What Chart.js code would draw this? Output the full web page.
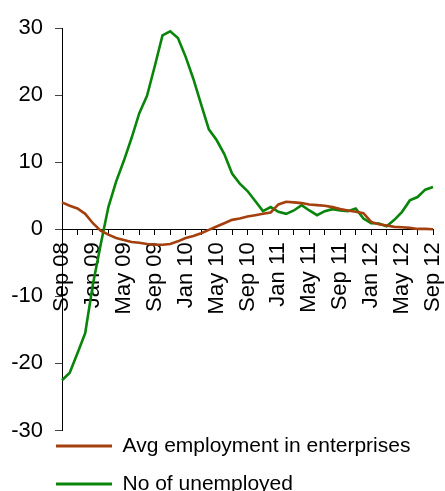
<!DOCTYPE html>
<html>
<head>
<meta charset="utf-8">
<script src="https://cdn.jsdelivr.net/npm/chart.js@4"></script>
<style>
  html, body { margin: 0; padding: 0; background: #fff; }
  #wrap { width: 445px; height: 491px; position: relative; }
</style>
</head>
<body>
<div id="wrap"><canvas id="c" width="445" height="491"></canvas></div>
<script>
const categories = [
  'Sep 08','Oct 08','Nov 08','Dec 08',
  'Jan 09','Feb 09','Mar 09','Apr 09','May 09','Jun 09','Jul 09','Aug 09','Sep 09','Oct 09','Nov 09','Dec 09',
  'Jan 10','Feb 10','Mar 10','Apr 10','May 10','Jun 10','Jul 10','Aug 10','Sep 10','Oct 10','Nov 10','Dec 10',
  'Jan 11','Feb 11','Mar 11','Apr 11','May 11','Jun 11','Jul 11','Aug 11','Sep 11','Oct 11','Nov 11','Dec 11',
  'Jan 12','Feb 12','Mar 12','Apr 12','May 12','Jun 12','Jul 12','Aug 12','Sep 12'
];
const avgEmployment = [
  4.0, 3.5, 3.1, 2.3,
  0.9, -0.2, -0.8, -1.3, -1.6, -1.9, -2.0, -2.2, -2.3, -2.3, -2.2, -1.8,
  -1.3, -1.0, -0.6, -0.1, 0.4, 0.9, 1.4, 1.6, 1.9, 2.1, 2.3, 2.5,
  3.7, 4.1, 4.0, 3.9, 3.7, 3.6, 3.5, 3.3, 3.0, 2.8, 2.6, 2.4,
  1.1, 0.75, 0.55, 0.35, 0.3, 0.2, 0.05, 0.05, 0.0
];
const unemployed = [
  -22.5, -21.4, -18.5, -15.5,
  -8.2, -2.3, 3.3, 7.1, 10.2, 13.6, 17.3, 19.9, 24.3, 28.9, 29.5, 28.5,
  25.7, 22.4, 18.6, 14.9, 13.3, 11.2, 8.3, 6.8, 5.7, 4.2, 2.7, 3.3,
  2.6, 2.3, 2.8, 3.6, 2.8, 2.1, 2.7, 3.0, 2.8, 2.7, 3.1, 1.6,
  0.9, 0.85, 0.45, 1.4, 2.6, 4.3, 4.8, 5.9, 6.3
];
const seriesNames = ['Avg employment in enterprises', 'No of unemployed'];
const yTicks = { min: -30, max: 30, step: 10 };

const FONT = "'Liberation Sans', Arial, sans-serif";

const legendShift = {
  id: 'legendShift',
  afterLayout(chart) {
    const lg = chart.legend;
    if (!lg) return;
    const h = lg.bottom - lg.top;
    const w = lg.right - lg.left;
    lg.top = 418.5; lg.bottom = lg.top + h;
    lg.left = 39; lg.right = lg.left + w;
  }
};

new Chart(document.getElementById('c'), {
  type: 'line',
  data: {
    labels: categories,
    datasets: [
      { label: seriesNames[0], data: avgEmployment, borderColor: '#A3400E', backgroundColor: '#A3400E',
        borderWidth: 2.6, pointRadius: 0, tension: 0, fill: false },
      { label: seriesNames[1], data: unemployed, borderColor: '#08850A', backgroundColor: '#08850A',
        borderWidth: 2.6, pointRadius: 0, tension: 0, fill: false }
    ]
  },
  options: {
    responsive: false,
    animation: false,
    devicePixelRatio: 1,
    layout: { padding: { left: 0, top: 28, right: 12, bottom: -25.5 } },
    plugins: {
      tooltip: { enabled: false },
      legend: {
        position: 'bottom',
        align: 'start',
        labels: {
          boxWidth: 56, boxHeight: 3, padding: 17,
          color: '#000',
          font: { family: FONT, size: 21 },
          generateLabels(chart) {
            return chart.data.datasets.map((ds, i) => ({
              text: ds.label, fillStyle: ds.borderColor, strokeStyle: ds.borderColor,
              lineWidth: 0, hidden: false, datasetIndex: i, fontColor: '#000'
            }));
          }
        }
      }
    },
    scales: {
      x: {
        type: 'category',
        position: { y: 0 },
        offset: false,
        border: { display: true, color: '#000', width: 1 },
        grid: {
          display: true, drawOnChartArea: false, drawTicks: true, tickLength: 5,
          tickColor: (ctx) => (ctx.index % 2 === 0 ? '#000' : 'rgba(0,0,0,0)')
        },
        ticks: {
          autoSkip: false, maxRotation: 90, minRotation: 90, padding: 8,
          color: '#000', font: { family: FONT, size: 22 },
          callback: function (val, idx) { return idx % 4 === 0 ? this.getLabelForValue(val) : ''; }
        },
        afterFit(scale) { scale.paddingLeft = 0; scale.paddingRight = 0; }
      },
      y: {
        min: yTicks.min, max: yTicks.max,
        border: { display: true, color: '#000', width: 1 },
        grid: { display: true, drawOnChartArea: false, drawTicks: true, tickLength: 7, tickColor: '#444' },
        ticks: { stepSize: yTicks.step, padding: 12, color: '#000', font: { family: FONT, size: 22 } },
        afterFit(scale) { scale.width = 62; }
      }
    }
  },
  plugins: [legendShift]
});
</script>
</body>
</html>
